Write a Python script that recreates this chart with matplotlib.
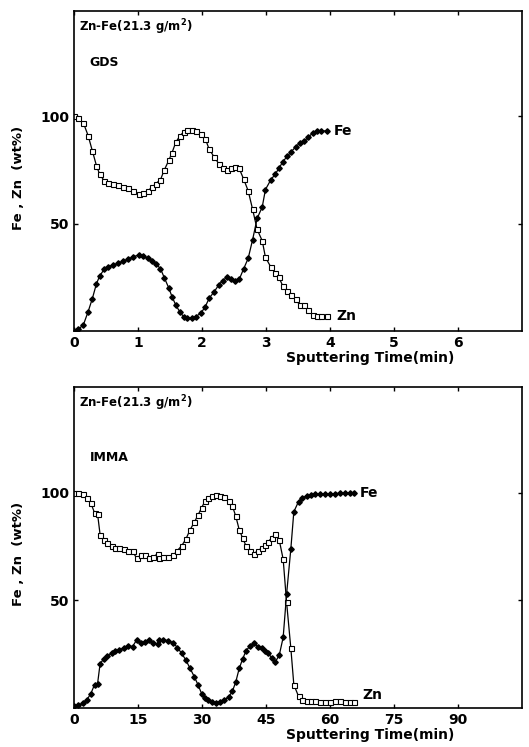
## Zn-Fe coating depth profiles: GDS vs IMMA
import matplotlib
matplotlib.use("Agg")
import matplotlib.pyplot as plt

# ---- GDS (top) ----
t_gds = [0, 0.067, 0.145, 0.22, 0.285, 0.35, 0.40, 0.47, 0.53, 0.61, 0.69, 0.77, 0.84, 0.92,
         1.01, 1.08, 1.15, 1.22, 1.28, 1.35, 1.41, 1.48, 1.53, 1.59, 1.65, 1.71, 1.77, 1.84,
         1.90, 1.98, 2.05, 2.11, 2.19, 2.26, 2.32, 2.39, 2.45, 2.51, 2.58, 2.65, 2.72, 2.79,
         2.86, 2.94, 2.99, 3.07, 3.14, 3.20, 3.26, 3.33, 3.39, 3.46, 3.53, 3.60, 3.66, 3.73,
         3.79, 3.86, 3.95]
zn_gds = [100, 99, 97, 91, 84, 77, 73, 70, 69, 68.7, 68, 67, 66.4, 65,
          64, 64.3, 65.3, 67, 68.7, 70.5, 75, 79.5, 83, 88, 90.7, 92.7, 93.5, 93.5,
          93.2, 92, 89.6, 84.7, 81, 78, 75.7, 74.9, 75.7, 76.4, 75.7, 70.7, 65.3, 56.6,
          47.3, 42, 34.3, 30, 27, 25, 21, 18.8, 16.7, 14.7, 12, 12, 9.8, 7.4,
          7, 7, 7]
fe_gds = [0, 0.8, 2.8, 9, 15, 22, 25.6, 28.7, 30, 30.7, 31.5, 32.6, 33.3, 34.6,
          35.3, 35, 33.8, 32.6, 31.2, 29, 24.8, 20, 16, 12, 9, 6.7, 5.9, 5.9,
          6.7, 8.2, 11.3, 15.2, 18.3, 21.4, 23.4, 25, 24, 23.4, 24, 29, 33.8, 42.6,
          52.4, 57.8, 65.9, 70.2, 73, 75.7, 78.8, 81.4, 83.4, 85.7, 87.6, 88.5, 90.4, 92.2,
          93, 93.2, 93.2]

# ---- IMMA (bottom) ----
t_imma = [0, 1.0, 2.0, 3.0, 3.9, 4.8, 5.5, 6.1, 6.9, 7.8, 8.8, 9.6, 10.6, 11.7, 12.7, 13.7,
          14.7, 15.6, 16.6, 17.6, 18.6, 19.6, 20.0, 20.9, 22.1, 23.3, 24.2, 25.2, 26.2, 27.2,
          28.2, 29.1, 29.9, 30.7, 31.5, 32.4, 33.3, 34.2, 35.1, 36.2, 37.1, 37.9, 38.7, 39.5,
          40.3, 41.3, 42.2, 43.0, 44.0, 44.8, 45.5, 46.3, 47.1, 48.1, 49.0, 49.8, 50.8, 51.5,
          52.6, 53.5, 54.5, 55.5, 56.5, 57.6, 58.8, 60.0, 61.2, 62.3, 63.5, 64.7, 65.6]
zn_imma = [100, 100, 99.2, 97.7, 95.3, 90.6, 90.2, 80.5, 78, 76.6, 75.3, 74.2, 74.2, 73.8, 73.1, 72.7,
           69.5, 71, 71, 69.5, 70.3, 71.6, 69.5, 70, 70, 71, 73.1, 75.3, 78.4, 82.8,
           86.3, 89.8, 93, 96.1, 97.7, 98.4, 98.8, 98.4, 98, 96.1, 93.8, 89, 82.8, 78.9,
           75.3, 72.7, 71.6, 73.1, 74.2, 75.8, 77.3, 78.9, 80.8, 77.8, 69.1, 49.2, 27.8, 10.9,
           5.5, 3.9, 3.4, 3.1, 3.1, 2.8, 2.7, 2.7, 3.1, 3.1, 2.8, 2.8, 2.7]
fe_imma = [0.8, 1.25, 2.3, 3.9, 6.6, 10.9, 11.2, 20.6, 22.7, 24, 25.5, 26.6, 27, 28.1, 29, 28.6,
           31.7, 30.2, 30.6, 31.7, 30.2, 29.7, 31.7, 31.7, 31.3, 30.2, 28.1, 25.5, 22.3, 18.4,
           14.5, 10.6, 6.7, 4.7, 3.6, 2.8, 2.3, 2.8, 3.6, 5.2, 7.8, 12.2, 18.4, 22.8,
           26.6, 29, 30.2, 28.6, 27.8, 26.6, 25.5, 23.4, 21.2, 24.7, 32.8, 52.8, 73.9, 91.1,
           95.8, 97.7, 98.4, 98.8, 99.2, 99.4, 99.4, 99.4, 99.5, 99.7, 99.7, 100, 100]

gds_ticks = [0, 1, 2, 3, 4, 5, 6]
imma_ticks = [0, 15, 30, 45, 60, 75, 90]

plt.rcParams['font.family'] = 'DejaVu Sans'
plt.rcParams['font.weight'] = 'bold'

fig = plt.figure(figsize=(5.29, 7.47), dpi=100)
ax1 = fig.add_axes([0.140, 0.557, 0.847, 0.428])
ax2 = fig.add_axes([0.140, 0.052, 0.847, 0.430])


def panel(ax, t, zn, fe, xmax, ticks, method, fe_xy, zn_xy):
    ax.plot(t, zn, '-', color='black', lw=0.9, marker='s', ms=3.6,
            mfc='white', mec='black', mew=0.8)
    ax.plot(t, fe, '-', color='black', lw=0.9, marker='D', ms=2.8,
            mfc='black', mec='black')
    ax.set_xlim(0, xmax)
    ax.set_ylim(0, 149)
    ax.set_xticks(ticks)
    ax.set_xticklabels([str(v) for v in ticks], fontsize=10, fontweight='bold')
    ax.set_yticks([50, 100])
    ax.set_yticklabels(['50', '100'], fontsize=10, fontweight='bold')
    ax.tick_params(direction='in', length=3, width=1, top=True, right=True)
    for s in ax.spines.values():
        s.set_linewidth(1.2)
    ax.set_ylabel('Fe , Zn  (wt%)', fontsize=9.5, fontweight='bold', labelpad=8)
    ax.yaxis.set_label_coords(-0.11, 0.48)
    ax.text(0.01, 0.95, 'Zn-Fe(21.3 g/m$^2$)', transform=ax.transAxes,
            fontsize=8.5, fontweight='bold', va='center')
    ax.text(0.035, 0.84 if method == 'GDS' else 0.78, method, transform=ax.transAxes,
            fontsize=9, fontweight='bold', va='center')
    ax.text(fe_xy[0], fe_xy[1], 'Fe', fontsize=10, fontweight='bold', va='center')
    ax.text(zn_xy[0], zn_xy[1], 'Zn', fontsize=10, fontweight='bold', va='center')
    ax.text(0.66, -0.085, 'Sputtering Time(min)', transform=ax.transAxes,
            fontsize=10, fontweight='bold', ha='center', va='center')


panel(ax1, t_gds, zn_gds, fe_gds, 7, gds_ticks, 'GDS', (4.05, 93), (4.1, 7))
panel(ax2, t_imma, zn_imma, fe_imma, 105, imma_ticks, 'IMMA', (67, 100), (67.5, 6))

fig.savefig('out.png', dpi=100)
